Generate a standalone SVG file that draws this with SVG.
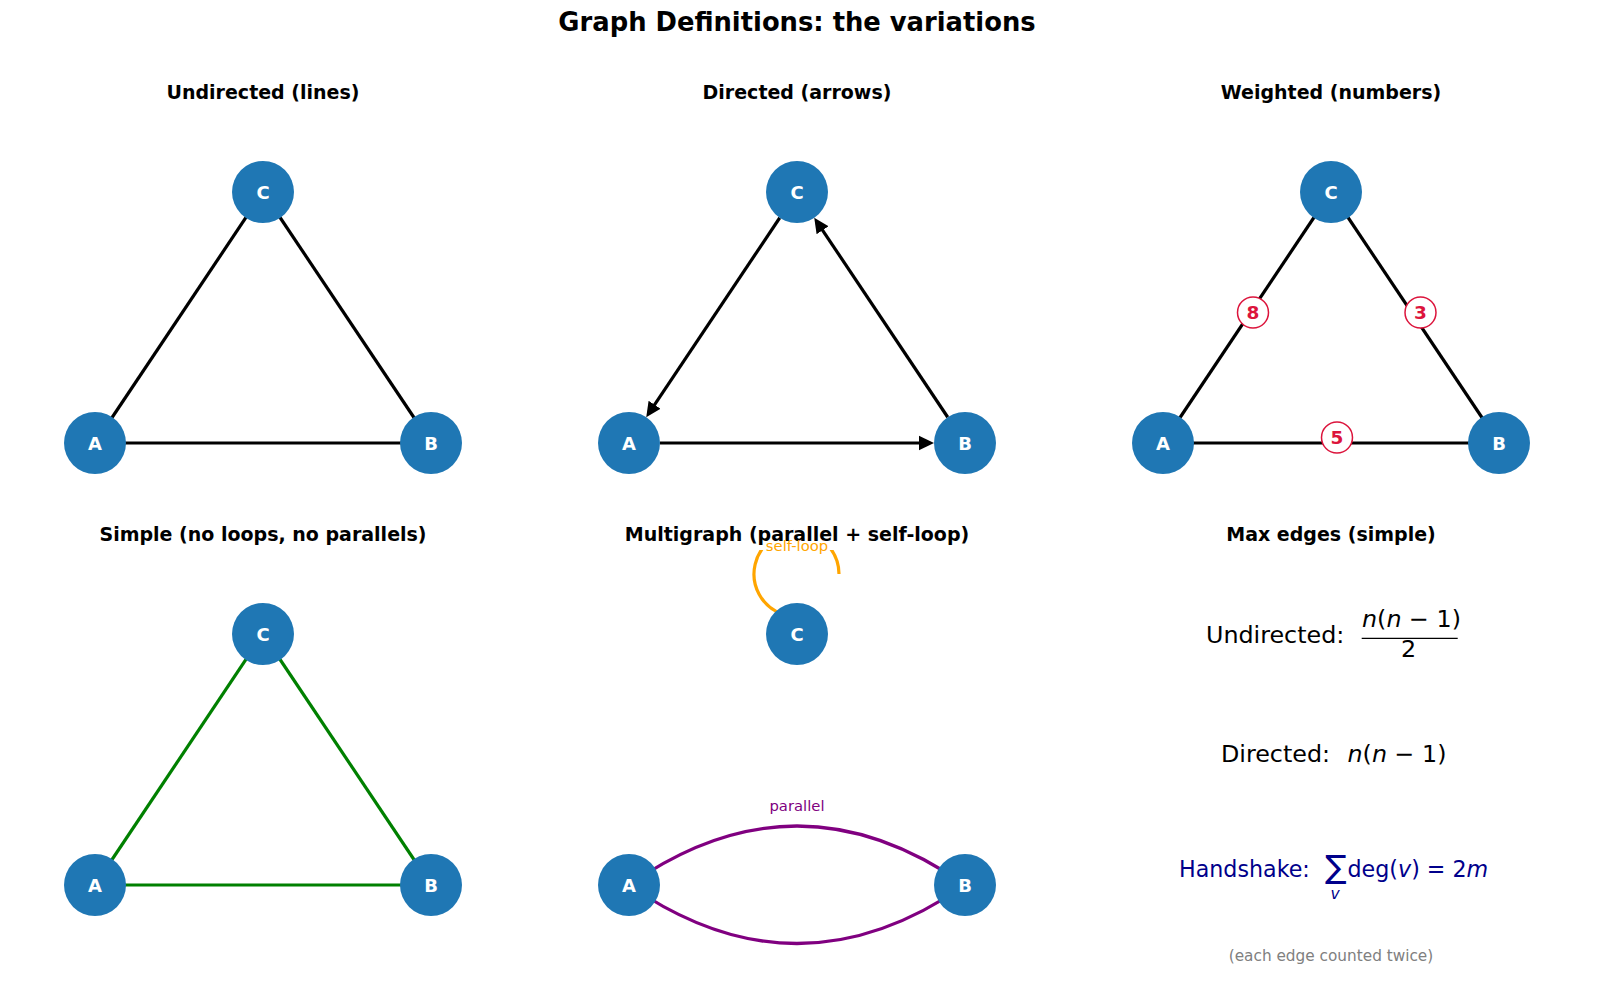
<svg xmlns="http://www.w3.org/2000/svg" width="1600" height="982" viewBox="0 0 1600 982">
<style>
  text { font-family: "DejaVu Sans", "Liberation Sans", sans-serif; }
  .title { font-size: 25.8px; font-weight: bold; fill: #000; text-anchor: middle; }
  .ptitle { font-size: 19px; font-weight: bold; fill: #000; text-anchor: middle; }
  .node circle { fill: #1f77b4; }
  .node text { font-size: 18px; font-weight: bold; fill: #fff; text-anchor: middle; }
  .edge { stroke: #000; stroke-width: 3.2; fill: none; }
  .green { stroke: #008000; stroke-width: 3.2; fill: none; }
  .purple { stroke: #800080; stroke-width: 3.2; fill: none; }
  .loop { stroke: #ffa500; stroke-width: 3.2; fill: none; }
  .wlabel circle { fill: #fff; stroke: #dc143c; stroke-width: 1.5; }
  .wlabel text { font-size: 18.5px; font-weight: bold; fill: #dc143c; text-anchor: middle; }
  .elabel { font-size: 14.8px; text-anchor: middle; }
  .formula { font-size: 23.8px; fill: #000; }
  .hs { font-size: 22.2px; fill: #00008b; }
  .hs.sum { font-size: 32px; }
  .hs.sub { font-size: 15.5px; font-style: italic; text-anchor: middle; }
  .it { font-style: italic; }
  .note { font-size: 15.3px; fill: #808080; text-anchor: middle; }
</style>
<defs>
  <marker id="arrow" markerUnits="userSpaceOnUse" markerWidth="16" markerHeight="16" viewBox="0 0 16 16" refX="2" refY="8" orient="auto">
    <path d="M0,0.8 L15,8 L0,15.2 z" fill="#000"/>
  </marker>
  <clipPath id="axclip"><rect x="540" y="550" width="520" height="420"/></clipPath>
</defs>
<rect width="1600" height="982" fill="#fff"/>

<g id="titles">
  <text class="title" x="797" y="31">Graph Definitions: the variations</text>
  <text class="ptitle" x="263" y="98.5">Undirected (lines)</text>
  <text class="ptitle" x="797" y="98.5">Directed (arrows)</text>
  <text class="ptitle" x="1331" y="98.5">Weighted (numbers)</text>
  <text class="ptitle" x="263" y="541">Simple (no loops, no parallels)</text>
  <text class="ptitle" x="797" y="541">Multigraph (parallel + self-loop)</text>
  <text class="ptitle" x="1331" y="541">Max edges (simple)</text>
</g>

<g id="connectors">
  <!-- undirected -->
  <line class="edge" x1="95" y1="443" x2="431" y2="443"/>
  <line class="edge" x1="95" y1="443" x2="263" y2="192"/>
  <line class="edge" x1="431" y1="443" x2="263" y2="192"/>
  <!-- directed -->
  <line class="edge" x1="660" y1="443" x2="921" y2="443" marker-end="url(#arrow)"/>
  <line class="edge" x1="779.76" y1="217.76" x2="653.47" y2="406.44" marker-end="url(#arrow)"/>
  <line class="edge" x1="947.76" y1="417.24" x2="821.47" y2="228.56" marker-end="url(#arrow)"/>
  <!-- weighted -->
  <line class="edge" x1="1163" y1="443" x2="1499" y2="443"/>
  <line class="edge" x1="1163" y1="443" x2="1331" y2="192"/>
  <line class="edge" x1="1499" y1="443" x2="1331" y2="192"/>
  <!-- simple -->
  <line class="green" x1="95" y1="885" x2="431" y2="885"/>
  <line class="green" x1="95" y1="885" x2="263" y2="634"/>
  <line class="green" x1="431" y1="885" x2="263" y2="634"/>
  <!-- multigraph -->
  <path class="purple" d="M629,885 Q797,767 965,885"/>
  <path class="purple" d="M629,885 Q797,1002 965,885"/>
  <path class="loop" clip-path="url(#axclip)" d="M839,574 A42.5,42.5 0 1 0 782,614"/>
</g>

<g id="edge-labels">
  <g class="wlabel" id="w-AC"><circle cx="1253" cy="312.5" r="15.5"/><text x="1253" y="319.2">8</text></g>
  <g class="wlabel" id="w-BC"><circle cx="1420.5" cy="312.5" r="15.5"/><text x="1420.5" y="319.2">3</text></g>
  <g class="wlabel" id="w-AB"><circle cx="1337" cy="437.5" r="15.5"/><text x="1337" y="444.2">5</text></g>
  <text class="elabel" x="797" y="551" fill="#ffa500">self-loop</text>
  <text class="elabel" x="797" y="811" fill="#800080">parallel</text>
</g>

<g id="undirected-A" class="node"><circle cx="95" cy="443" r="31"/><text x="95" y="449.5">A</text></g>
<g id="undirected-B" class="node"><circle cx="431" cy="443" r="31"/><text x="431" y="449.5">B</text></g>
<g id="undirected-C" class="node"><circle cx="263" cy="192" r="31"/><text x="263" y="198.5">C</text></g>

<g id="directed-A" class="node"><circle cx="629" cy="443" r="31"/><text x="629" y="449.5">A</text></g>
<g id="directed-B" class="node"><circle cx="965" cy="443" r="31"/><text x="965" y="449.5">B</text></g>
<g id="directed-C" class="node"><circle cx="797" cy="192" r="31"/><text x="797" y="198.5">C</text></g>

<g id="weighted-A" class="node"><circle cx="1163" cy="443" r="31"/><text x="1163" y="449.5">A</text></g>
<g id="weighted-B" class="node"><circle cx="1499" cy="443" r="31"/><text x="1499" y="449.5">B</text></g>
<g id="weighted-C" class="node"><circle cx="1331" cy="192" r="31"/><text x="1331" y="198.5">C</text></g>

<g id="simple-A" class="node"><circle cx="95" cy="885" r="31"/><text x="95" y="891.5">A</text></g>
<g id="simple-B" class="node"><circle cx="431" cy="885" r="31"/><text x="431" y="891.5">B</text></g>
<g id="simple-C" class="node"><circle cx="263" cy="634" r="31"/><text x="263" y="640.5">C</text></g>

<g id="multi-A" class="node"><circle cx="629" cy="885" r="31"/><text x="629" y="891.5">A</text></g>
<g id="multi-B" class="node"><circle cx="965" cy="885" r="31"/><text x="965" y="891.5">B</text></g>
<g id="multi-C" class="node"><circle cx="797" cy="634" r="31"/><text x="797" y="640.5">C</text></g>

<g id="max-edges">
  <text class="formula" x="1206" y="643">Undirected:</text>
  <text class="formula" x="1362" y="627.3"><tspan class="it">n</tspan>(<tspan class="it">n</tspan> − 1)</text>
  <line x1="1361.7" y1="638.3" x2="1457.7" y2="638.3" stroke="#000" stroke-width="1.2"/>
  <text class="formula" x="1408.5" y="656.7" text-anchor="middle">2</text>

  <text class="formula" x="1221" y="761.5">Directed:</text>
  <text class="formula" x="1347.5" y="761.5"><tspan class="it">n</tspan>(<tspan class="it">n</tspan> − 1)</text>

  <text class="hs" x="1179" y="877">Handshake:</text>
  <text class="hs sum" x="1325" y="878">∑</text>
  <text class="hs sub" x="1335" y="899">v</text>
  <text class="hs" x="1347.5" y="877">deg(<tspan class="it">v</tspan>) = 2<tspan class="it">m</tspan></text>

  <text class="note" x="1331" y="960.7">(each edge counted twice)</text>
</g>
</svg>
